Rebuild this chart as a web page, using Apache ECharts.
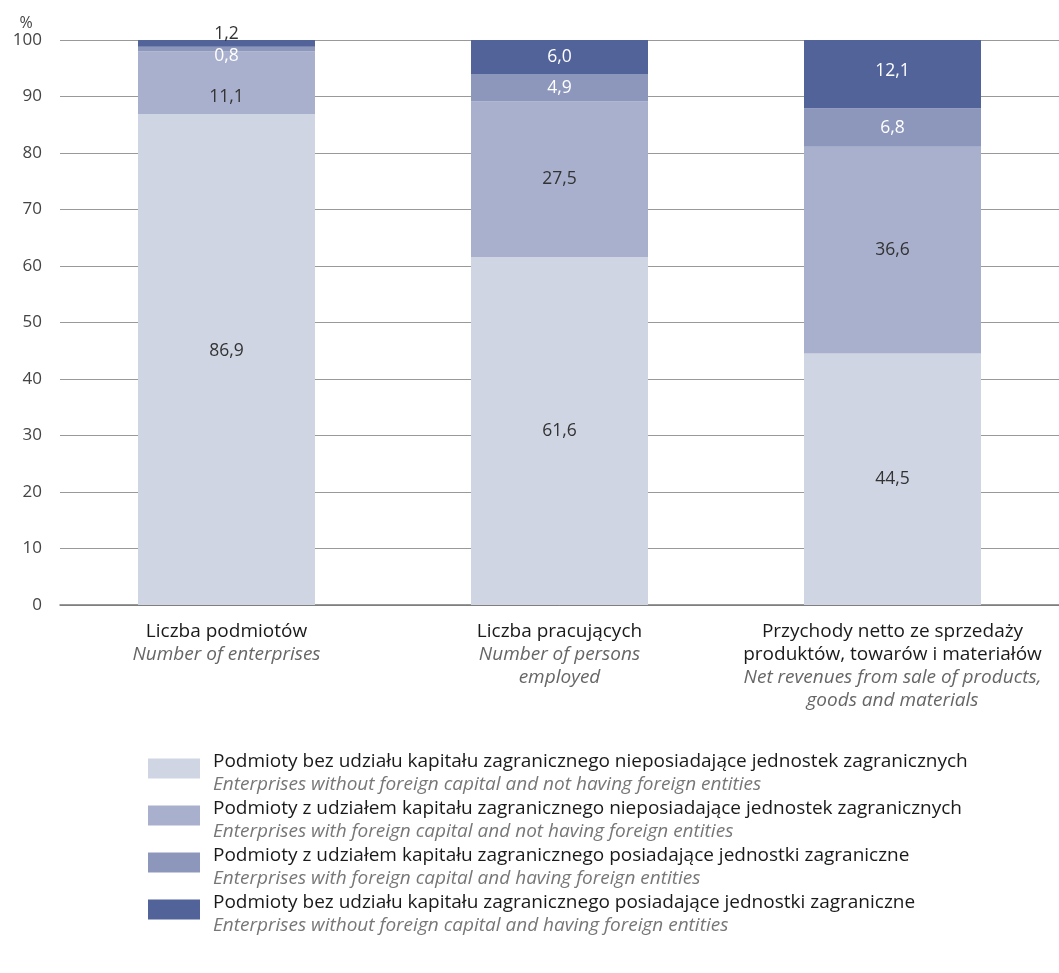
<!DOCTYPE html>
<html><head><meta charset="utf-8">
<script src="https://cdn.jsdelivr.net/npm/echarts@6/dist/echarts.min.js"></script>
<style>html,body{margin:0;padding:0;background:#fff}#c{width:1059px;height:973px}</style>
</head><body><div id="c"></div>
<script>
const categoriesPL = ['Liczba podmiotów', 'Liczba pracujących', 'Przychody netto ze sprzedaży\nproduktów, towarów i materiałów'];
const categoriesEN = ['Number of enterprises', 'Number of persons\nemployed', 'Net revenues from sale of products,\ngoods and materials'];
const seriesNamesPL = [
  'Podmioty bez udziału kapitału zagranicznego nieposiadające jednostek zagranicznych',
  'Podmioty z udziałem kapitału zagranicznego nieposiadające jednostek zagranicznych',
  'Podmioty z udziałem kapitału zagranicznego posiadające jednostki zagraniczne',
  'Podmioty bez udziału kapitału zagranicznego posiadające jednostki zagraniczne'
];
const seriesNamesEN = [
  'Enterprises without foreign capital and not having foreign entities',
  'Enterprises with foreign capital and not having foreign entities',
  'Enterprises with foreign capital and having foreign entities',
  'Enterprises without foreign capital and having foreign entities'
];
const noForeignNoEntities = [86.9, 61.6, 44.5];
const foreignNoEntities = [11.1, 27.5, 36.6];
const foreignWithEntities = [0.8, 4.9, 6.8];
const noForeignWithEntities = [1.2, 6.0, 12.1];
const yTicks = [0, 10, 20, 30, 40, 50, 60, 70, 80, 90, 100];

const colors = ['#cfd5e3', '#a9b0cd', '#8d97bb', '#52639a'];
const labelColors = ['#333', '#333', '#fff', '#fff'];
const FONT = 'Open Sans';
const FS = 19;
const fmt = v => v.toFixed(1).replace('.', ',');

const labelOffsets = [
  [[0,-8],[0,0],[0,0]],
  [[0,14],[0,0],[0,0]],
  [[0,7],[0,0],[0,0]],
  [[0,-9],[0,0],[0,-3]]
];
const labelColorOverride = [[null,null,null],[null,null,null],[null,null,null],['#333',null,null]];

const allData = [noForeignNoEntities, foreignNoEntities, foreignWithEntities, noForeignWithEntities];

const series = allData.map((arr, si) => ({
  name: seriesNamesPL[si],
  type: 'bar',
  stack: 'total',
  barWidth: 177,
  itemStyle: { color: colors[si] },
  label: {
    show: true, position: 'inside', fontFamily: FONT, fontSize: 17.5,
    color: labelColors[si], formatter: p => fmt(p.value)
  },
  data: arr.map((v, i) => ({
    value: v,
    label: { offset: labelOffsets[si][i], color: labelColorOverride[si][i] || labelColors[si] }
  }))
}));

const chart = echarts.init(document.getElementById('c'));
chart.setOption({
  animation: false,
  textStyle: { fontFamily: FONT },
  grid: { left: 60, right: 0, top: 40, bottom: 368 },
  xAxis: {
    type: 'category',
    data: categoriesPL.map((c, i) => i),
    axisLine: { lineStyle: { color: '#777', width: 1.5 } },
    axisTick: { show: false },
    axisLabel: {
      margin: 15,
      interval: 0,
      formatter: (v, i) => {
        const pl = categoriesPL[i].split('\n').map(s => '{a|' + s + '}').join('\n');
        const en = categoriesEN[i].split('\n').map(s => '{b|' + s + '}').join('\n');
        return pl + '\n' + en;
      },
      rich: {
        a: { fontFamily: FONT, fontSize: FS, color: '#1a1a1a', lineHeight: 23, align: 'center' },
        b: { fontFamily: FONT, fontSize: FS, color: '#666', fontStyle: 'italic', lineHeight: 23, align: 'center' }
      }
    }
  },
  yAxis: {
    type: 'value', min: 0, max: 100, interval: 10,
    name: '%', nameLocation: 'end', nameGap: 8,
    nameTextStyle: { fontFamily: FONT, fontSize: 16, color: '#444', align: 'center', padding: [0, 68, 0, 0] },
    axisLine: { show: false }, axisTick: { show: false },
    axisLabel: { fontFamily: FONT, fontSize: 17, color: '#444', margin: 18,
      formatter: v => yTicks.includes(v) ? String(v) : '' },
    splitLine: { lineStyle: { color: '#999', width: 1 } }
  },
  legend: {
    orient: 'vertical', left: 143, top: 747,
    itemWidth: 52, itemHeight: 29, itemGap: 5,
    icon: 'path://M0,0H52V20H0Z M0,29H52',
    data: seriesNamesPL,
    formatter: name => {
      const i = seriesNamesPL.indexOf(name);
      return '{a|' + name + '}\n{b|' + seriesNamesEN[i] + '}';
    },
    textStyle: {
      padding: [0, 0, 0, 8],
      rich: {
        a: { fontFamily: FONT, fontSize: FS, color: '#1a1a1a', lineHeight: 23 },
        b: { fontFamily: FONT, fontSize: FS, color: '#777', fontStyle: 'italic', lineHeight: 23 }
      }
    }
  },
  series
});
</script></body></html>
